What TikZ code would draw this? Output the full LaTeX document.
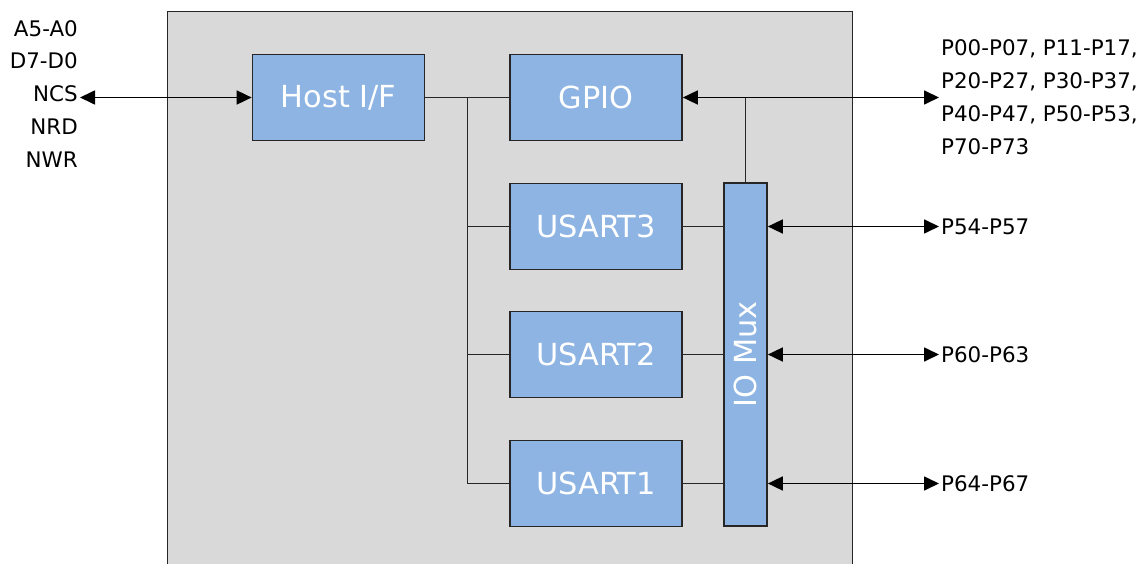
\documentclass[tikz,border=0pt]{standalone}
\usepackage{fontspec}
\setmainfont{DejaVu Sans}
\usetikzlibrary{arrows.meta}
\usetikzlibrary{positioning}
\definecolor{boxgray}{HTML}{D9D9D9}
\definecolor{blkblue}{HTML}{8DB4E2}
\definecolor{edge}{HTML}{262626}

\begin{document}
\begin{tikzpicture}[x=1bp,y=-1bp,
	blk/.style={draw=edge,fill=blkblue,line width=1.7bp,text=white,font=\fontsize{30.5}{36}\selectfont,minimum width=172bp,minimum height=86bp,inner sep=0pt},
	lbl/.style={font=\fontsize{21.5}{33.2}\selectfont,inner sep=2bp},
	wire/.style={draw=edge,line width=1.7bp},
	bidir/.style={draw=black,line width=1.7bp,>={Triangle[length=15bp,width=14bp]},<->}]
					\useasboundingbox (0,0) rectangle (1145,564);
					\draw[edge,fill=boxgray,line width=1.7bp] (167.5,11.5) rectangle (852.5,600);

					\node[blk] (host) at (338.5,97.5) {Host I/F};
					\node[blk] (gpio) at (596,97.5) {GPIO};
					\node[blk] (usart3) at (596,226.5) {USART3};
					\node[blk] (usart2) at (596,354.5) {USART2};
					\node[blk] (usart1) at (596,483.5) {USART1};
					\node[blk,minimum width=43bp,minimum height=343bp,label={[rotate=90,text=white,font=\fontsize{30.5}{36}\selectfont]center:IO Mux}] (mux) at (745.5,354.5) {};

					\node[lbl,anchor=base east] (addr) at (80,37) {A5-A0};
					\node[lbl,anchor=base east] (data) at (80,69) {D7-D0};
					\node[lbl,anchor=base east] (ncs) at (80,102) {NCS};
					\node[lbl,anchor=base east] (nrd) at (80,135) {NRD};
					\node[lbl,anchor=base east] (nwr) at (80,168) {NWR};

					\node[lbl,anchor=west,align=left] (gpiopins) at (939,97.5) {P00-P07, P11-P17,\\P20-P27, P30-P37,\\P40-P47, P50-P53,\\P70-P73};
					\node[lbl,anchor=west] (pinsa) at (939,226.5) {P54-P57};
					\node[lbl,anchor=west] (pinsb) at (939,354.5) {P60-P63};
					\node[lbl,anchor=west] (pinsc) at (939,483.5) {P64-P67};

					\coordinate (bus) at (467.5,97.5);

					\draw[bidir] (ncs.east |- host.west) -- (host.west);
					\draw[wire] (host.east) -- (gpio.west);
					\draw[wire] (bus) |- (usart1.west);
					\draw[wire] (bus |- usart3.west) -- (usart3.west);
					\draw[wire] (bus |- usart2.west) -- (usart2.west);
					\draw[wire] (usart3.east) -- (usart3.east -| mux.west);
					\draw[wire] (usart2.east) -- (usart2.east -| mux.west);
					\draw[wire] (usart1.east) -- (usart1.east -| mux.west);
					\draw[wire] (mux.north) -- (mux.north |- gpio.east);
					\draw[bidir] (gpio.east) -- (gpiopins.west |- gpio.east);
					\draw[bidir] (usart3.east -| mux.east) -- (pinsa.west);
					\draw[bidir] (usart2.east -| mux.east) -- (pinsb.west);
					\draw[bidir] (usart1.east -| mux.east) -- (pinsc.west);

				\end{tikzpicture}
\end{document}
